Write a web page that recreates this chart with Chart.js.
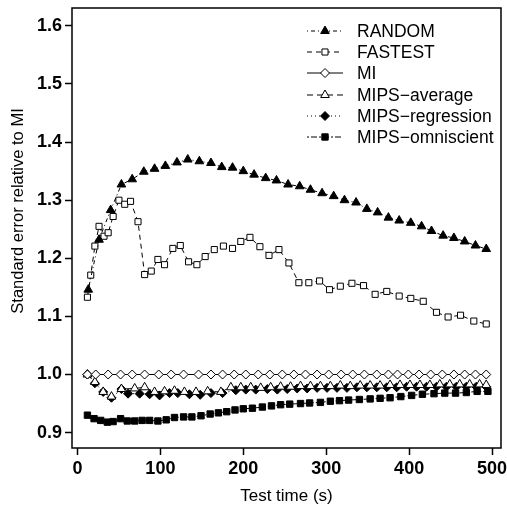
<!DOCTYPE html>
<html>
<head>
<meta charset="utf-8">
<script src="https://cdn.jsdelivr.net/npm/chart.js@4/dist/chart.umd.min.js"></script>
<style>
  html, body { margin: 0; padding: 0; background: #fff; }
  #box { width: 507px; height: 509px; }
</style>
</head>
<body>
<div id="box"><canvas id="myChart"></canvas></div>
<script>
// tick labels
const xTicks = [0, 100, 200, 300, 400, 500];
const yTicks = [0.9, 1.0, 1.1, 1.2, 1.3, 1.4, 1.5, 1.6];

// RANDOM
const randomT = [13, 26, 40, 53, 66, 80, 93, 106, 120, 133, 147, 161, 174, 187, 200, 213, 227, 240,
                 254, 268, 281, 295, 309, 322, 336, 349, 362, 375, 388, 402, 415, 427, 441, 454, 467, 480, 493];
const randomV = [1.146, 1.232, 1.283, 1.327, 1.336, 1.349, 1.354, 1.359, 1.365, 1.370, 1.367, 1.364, 1.357,
                 1.356, 1.350, 1.344, 1.338, 1.334, 1.327, 1.324, 1.318, 1.312, 1.307, 1.300, 1.296, 1.285,
                 1.279, 1.270, 1.265, 1.261, 1.255, 1.247, 1.239, 1.235, 1.229, 1.222, 1.216];

// FASTEST
const fastestT = [12, 16, 21, 26, 32, 37, 43, 50, 57, 64, 73, 81, 89, 97, 105, 115, 124, 134, 144, 154, 165,
                  176, 187, 197, 208, 220, 231, 243, 255, 267, 279, 292, 304, 317, 331, 345, 359, 373, 388,
                  402, 417, 433, 447, 462, 478, 493];
const fastestV = [1.133, 1.171, 1.221, 1.255, 1.238, 1.244, 1.272, 1.300, 1.293, 1.298, 1.263, 1.172, 1.178,
                  1.198, 1.189, 1.217, 1.222, 1.194, 1.189, 1.203, 1.215, 1.221, 1.217, 1.229, 1.236, 1.220,
                  1.205, 1.215, 1.192, 1.158, 1.158, 1.161, 1.146, 1.152, 1.157, 1.153, 1.138, 1.143, 1.135,
                  1.131, 1.126, 1.107, 1.099, 1.102, 1.092, 1.087];

// MI
const miT = [12, 22, 37, 52, 66, 81, 98, 113, 128, 146, 161, 175, 189, 203, 218, 232, 247, 261, 275, 289,
             303, 318, 332, 346, 361, 375, 386, 399, 412, 426, 440, 454, 467, 480, 493];
const miV = [1, 1, 1, 1, 1, 1, 1, 1, 1, 1, 1, 1, 1, 1, 1, 1, 1, 1, 1, 1,
             1, 1, 1, 1, 1, 1, 1, 1, 1, 1, 1, 1, 1, 1, 1];

// MIPS-average
const avgT = [12, 21, 31, 41, 53, 69, 81, 93, 105, 117, 129, 143, 157, 173, 185, 197, 209, 221, 233, 245,
              257, 269, 281, 293, 305, 317, 329, 341, 353, 365, 377, 389, 401, 413, 425, 437, 449, 461, 473, 485, 493];
const avgV = [1.000, 0.987, 0.970, 0.962, 0.975, 0.976, 0.978, 0.970, 0.971, 0.972, 0.970, 0.970, 0.971,
              0.970, 0.978, 0.978, 0.978, 0.977, 0.978, 0.979, 0.979, 0.980, 0.980, 0.980, 0.980, 0.981,
              0.980, 0.981, 0.981, 0.981, 0.982, 0.982, 0.982, 0.982, 0.982, 0.983, 0.983, 0.983, 0.983,
              0.983, 0.982];

// MIPS-regression
const regT = [12, 21, 31, 41, 53, 61, 75, 87, 99, 111, 121, 135, 148, 161, 175, 191, 203, 215, 229, 241,
              253, 265, 277, 289, 301, 313, 325, 337, 349, 361, 373, 385, 397, 409, 421, 433, 445, 457, 469, 481, 493];
const regV = [1.000, 0.985, 0.970, 0.960, 0.975, 0.967, 0.967, 0.966, 0.964, 0.968, 0.968, 0.966, 0.965,
              0.968, 0.968, 0.973, 0.974, 0.974, 0.975, 0.974, 0.975, 0.976, 0.976, 0.977, 0.977, 0.977,
              0.977, 0.978, 0.978, 0.978, 0.978, 0.978, 0.979, 0.979, 0.979, 0.979, 0.979, 0.979, 0.979,
              0.979, 0.979];

// MIPS-omniscient
const omniT = [12, 20, 28, 36, 43, 52, 60, 69, 78, 87, 97, 107, 117, 128, 138, 149, 160, 170, 180, 190,
               200, 211, 223, 234, 245, 256, 269, 280, 293, 305, 316, 327, 340, 353, 365, 377, 390, 403,
               416, 430, 443, 456, 469, 482, 495];
const omniV = [0.930, 0.924, 0.921, 0.918, 0.919, 0.924, 0.920, 0.920, 0.921, 0.921, 0.920, 0.922, 0.926,
               0.927, 0.927, 0.929, 0.932, 0.934, 0.936, 0.939, 0.941, 0.942, 0.944, 0.946, 0.948, 0.949,
               0.950, 0.951, 0.952, 0.954, 0.955, 0.956, 0.957, 0.958, 0.959, 0.960, 0.962, 0.964, 0.966,
               0.967, 0.968, 0.968, 0.969, 0.971, 0.971];

const fontFam = '"Liberation Sans", Arial, Helvetica, sans-serif';

function punts(t, v) {
    return t.map((x, i) => ({x: x, y: v[i]}));
}

function serie(label, t, v, dash, style, radius, fillCol) {
    return {
        label: label,
        data: punts(t, v),
        borderColor: '#000',
        borderWidth: 1,
        borderDash: dash,
        pointStyle: style,
        pointRadius: radius,
        pointBackgroundColor: fillCol,
        pointBorderColor: '#000',
        pointBorderWidth: 1,
        fill: false,
        tension: 0
    };
}

// no extra room for the end labels, the box is fixed by the layout padding
function sensePadding(s) {
    s.paddingTop = 0;
    s.paddingBottom = 0;
    s.paddingLeft = 0;
    s.paddingRight = 0;
}

// frame, axis titles and legend drawn inside the plot box
const extras = {
    id: 'extras',
    afterDraw(chart) {
        const ctx = chart.ctx;
        const a = chart.chartArea;
        ctx.save();
        ctx.strokeStyle = '#000';
        ctx.lineWidth = 1.5;
        ctx.setLineDash([]);
        ctx.strokeRect(a.left, a.top, a.right - a.left, a.bottom - a.top);

        ctx.fillStyle = '#000';
        ctx.font = '17px ' + fontFam;
        ctx.textAlign = 'center';
        ctx.textBaseline = 'middle';
        ctx.fillText('Test time (s)', (a.left + a.right) / 2, 496);
        ctx.save();
        ctx.translate(18, 211);
        ctx.rotate(-Math.PI / 2);
        ctx.font = '16.5px ' + fontFam;
        ctx.fillText('Standard error relative to MI', 0, 0);
        ctx.restore();

        // legend
        const rowY = [31, 52, 73, 95, 116, 137];
        chart.data.datasets.forEach((ds, i) => {
            const y = rowY[i];
            ctx.lineWidth = 1;
            ctx.setLineDash(ds.borderDash);
            ctx.beginPath();
            ctx.moveTo(307, y);
            ctx.lineTo(343, y);
            ctx.stroke();
            ctx.setLineDash([]);
            ctx.fillStyle = ds.pointBackgroundColor;
            const r = ds.pointRadius;
            const cx = 325;
            ctx.beginPath();
            if (ds.pointStyle === 'triangle') {
                for (let k = 0; k < 3; k++) {
                    const ang = k * 2 * Math.PI / 3;
                    const px = cx + Math.sin(ang) * r, py = y - Math.cos(ang) * r;
                    if (k === 0) ctx.moveTo(px, py); else ctx.lineTo(px, py);
                }
                ctx.closePath();
            } else if (ds.pointStyle === 'rect') {
                const s = r * Math.SQRT1_2;
                ctx.rect(cx - s, y - s, 2 * s, 2 * s);
            } else {
                ctx.moveTo(cx - r, y);
                ctx.lineTo(cx, y - r);
                ctx.lineTo(cx + r, y);
                ctx.lineTo(cx, y + r);
                ctx.closePath();
            }
            ctx.fill();
            ctx.stroke();
            ctx.fillStyle = '#000';
            ctx.font = '17.5px ' + fontFam;
            ctx.textAlign = 'left';
            ctx.fillText(ds.label, 357, y + 1);
        });
        ctx.restore();
    }
};

const tickFont = {family: fontFam, size: 18, weight: 'bold'};

const ctx = document.getElementById('myChart').getContext('2d');
const myChart = new Chart(ctx, {
    type: 'line',
    data: {
        datasets: [
            serie('RANDOM', randomT, randomV, [1, 3, 4, 3], 'triangle', 5, '#000'),
            serie('FASTEST', fastestT, fastestV, [5, 4], 'rect', 4.3, '#fff'),
            serie('MI', miT, miV, [], 'rectRot', 4.5, '#fff'),
            serie('MIPS\u2212average', avgT, avgV, [6, 4], 'triangle', 5, '#fff'),
            serie('MIPS\u2212regression', regT, regV, [1, 3], 'rectRot', 4.5, '#000'),
            serie('MIPS\u2212omniscient', omniT, omniV, [2, 2, 6, 2], 'rect', 4.5, '#000')
        ]
    },
    options: {
        responsive: true,
        maintainAspectRatio: false,
        animation: false,
        devicePixelRatio: 1,
        layout: {padding: {top: 8, right: 4, left: 0, bottom: 0}},
        plugins: {
            legend: {display: false},
            tooltip: {enabled: false}
        },
        scales: {
            x: {
                type: 'linear',
                min: -6.6,
                max: 510.8,
                afterBuildTicks: s => { s.ticks = xTicks.map(v => ({value: v})); },
                afterFit: s => { s.height = 61; sensePadding(s); },
                grid: {drawOnChartArea: false, drawTicks: true, tickLength: 7, tickWidth: 1.5, tickColor: '#000'},
                border: {display: false},
                ticks: {color: '#000', font: tickFont, padding: 3, maxRotation: 0, autoSkip: false}
            },
            y: {
                type: 'linear',
                min: 0.8735,
                max: 1.6308,
                afterBuildTicks: s => { s.ticks = yTicks.map(v => ({value: v})); },
                afterFit: s => { s.width = 72; sensePadding(s); },
                grid: {drawOnChartArea: false, drawTicks: true, tickLength: 7, tickWidth: 1.5, tickColor: '#000'},
                border: {display: false},
                ticks: {
                    color: '#000', font: tickFont, padding: 3, autoSkip: false,
                    callback: v => v.toFixed(1)
                }
            }
        }
    },
    plugins: [extras]
});
</script>
</body>
</html>
